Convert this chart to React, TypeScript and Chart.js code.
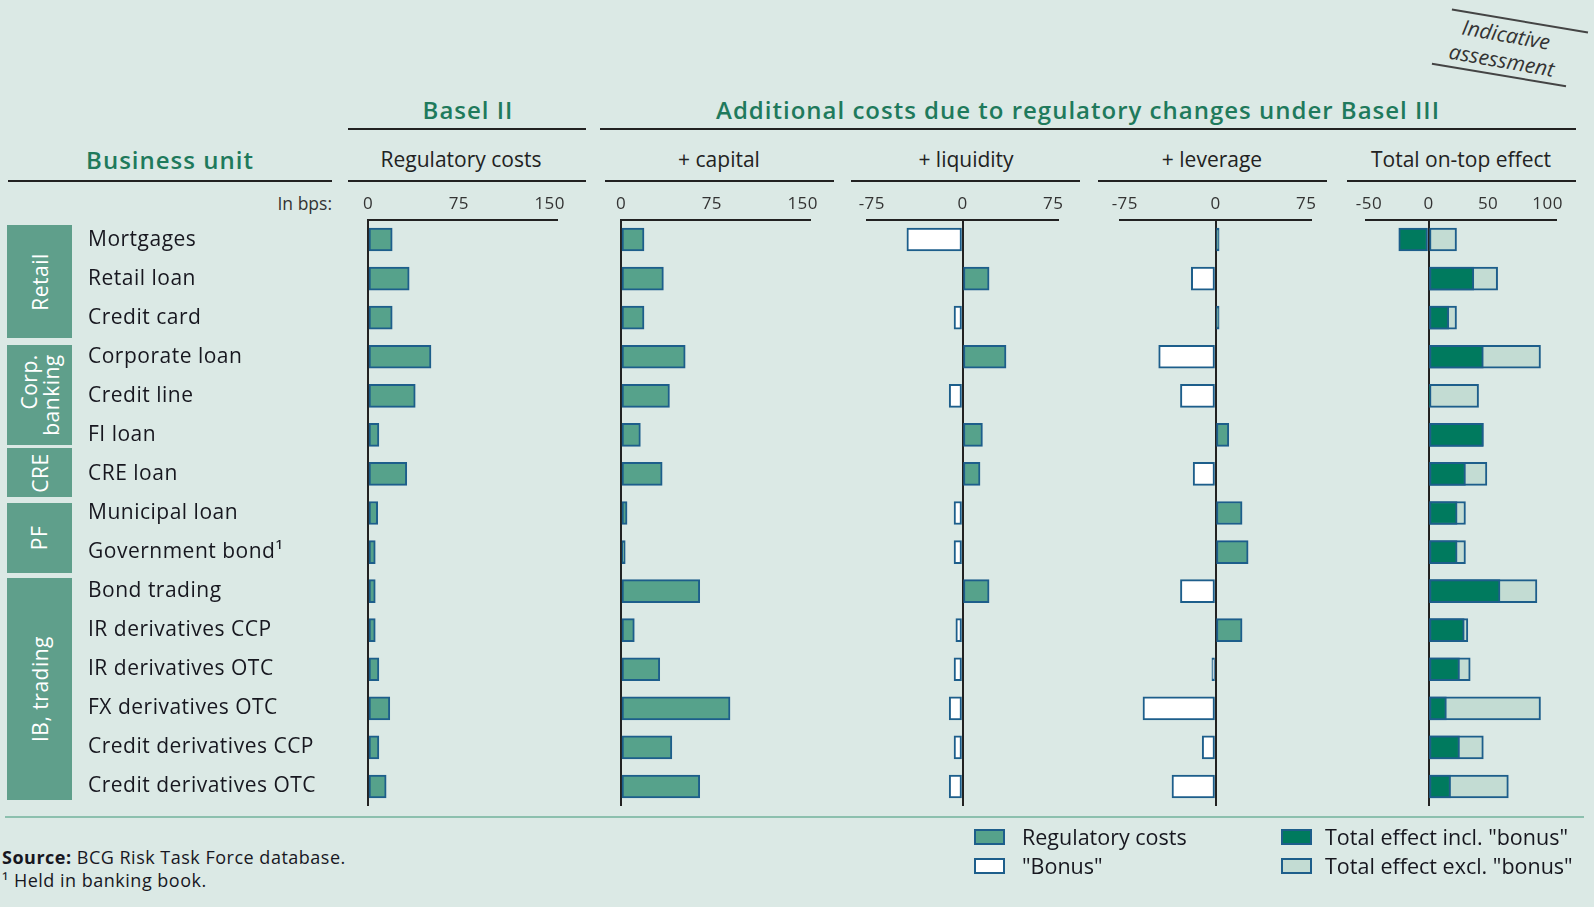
import React, { useEffect, useRef } from "react";
import { Chart, registerables } from "chart.js";

Chart.register(...registerables);

// ---------- data ----------
const categories = [
  "Mortgages",
  "Retail loan",
  "Credit card",
  "Corporate loan",
  "Credit line",
  "FI loan",
  "CRE loan",
  "Municipal loan",
  "Government bond¹",
  "Bond trading",
  "IR derivatives CCP",
  "IR derivatives OTC",
  "FX derivatives OTC",
  "Credit derivatives CCP",
  "Credit derivatives OTC",
];
const regulatoryCosts = [20, 34, 20, 52, 39, 9, 32, 8, 6, 6, 6, 9, 18, 9, 15];
const capitalCosts = [19, 35, 19, 53, 40, 16, 34, 5, 3.5, 65, 11, 32, 90, 42, 65];
const liquidityCosts = [-46, 22, -7, 36, -11, 16.5, 14.5, -7, -7, 22, -5.5, -7, -11, -7, -11];
const leverageCosts = [3, -20, 3, -47, -29, 11, -18.5, 22, 27, -29, 22, -3, -60, -11, -36];
const totalInclBonus = [-25, 38, 17, 46, 1, 46, 31, 24, 24, 60, 30, 26, 15, 26, 18.5];
const totalExclBonus = [23.5, 58, 23.5, 94, 42, 46, 49, 31, 31, 91, 33, 35, 94, 46, 67];

const regTicks = [0, 75, 150];
const capitalTicks = [0, 75, 150];
const liquidityTicks = [-75, 0, 75];
const leverageTicks = [-75, 0, 75];
const totalTicks = [-50, 0, 50, 100];

const groups = [
  { label: "Retail", top: 225, bottom: 338 },
  { label: "Corp.\nbanking", top: 345, bottom: 445 },
  { label: "CRE", top: 448, bottom: 497 },
  { label: "PF", top: 503, bottom: 573 },
  { label: "IB, trading", top: 578, bottom: 800 },
];

// ---------- styles ----------
const FONT = '"Open Sans", "DejaVu Sans", sans-serif';
const BG = "#dbe9e5";
const GREEN = "#56a28b";
const BORDER = "#1d5e8b";
const DARK = "#007a5e";
const LIGHT = "#c3dcd3";
const WHITE = "#ffffff";
const HEAD = "#1f7a5c";
const TEXT = "#17171f";
const BOX = "#5f9f8b";

const CANVAS_TOP = 186;
const AREA_BOTTOM = 806;
const PAD_BOTTOM = 15;
const CANVAS_H = AREA_BOTTOM + PAD_BOTTOM - CANVAS_TOP;

type Panel = {
  areaLeft: number;
  areaRight: number;
  min: number;
  max: number;
  ticks: number[];
  datasets: any[];
  withLabels: boolean;
};

const signed = (vals: number[]) => vals.map((v) => (v >= 0 ? GREEN : WHITE));

const barBase = {
  borderColor: BORDER,
  borderWidth: 2,
  borderSkipped: false,
  barThickness: 23,
  grouped: false,
};

const panels: Panel[] = [
  {
    areaLeft: 368,
    areaRight: 557,
    min: 0,
    max: 156,
    ticks: regTicks,
    withLabels: true,
    datasets: [{ ...barBase, label: "Regulatory costs", data: regulatoryCosts, backgroundColor: GREEN }],
  },
  {
    areaLeft: 621,
    areaRight: 810,
    min: 0,
    max: 156,
    ticks: capitalTicks,
    withLabels: false,
    datasets: [{ ...barBase, label: "+ capital", data: capitalCosts, backgroundColor: GREEN }],
  },
  {
    areaLeft: 867,
    areaRight: 1058,
    min: -79,
    max: 79,
    ticks: liquidityTicks,
    withLabels: false,
    datasets: [{ ...barBase, label: "+ liquidity", data: liquidityCosts, backgroundColor: signed(liquidityCosts) }],
  },
  {
    areaLeft: 1120,
    areaRight: 1311,
    min: -79,
    max: 79,
    ticks: leverageTicks,
    withLabels: false,
    datasets: [{ ...barBase, label: "+ leverage", data: leverageCosts, backgroundColor: signed(leverageCosts) }],
  },
  {
    areaLeft: 1366,
    areaRight: 1556,
    min: -52.5,
    max: 107,
    ticks: totalTicks,
    withLabels: false,
    datasets: [
      { ...barBase, label: 'Total effect incl. "bonus"', data: totalInclBonus, backgroundColor: DARK },
      { ...barBase, label: 'Total effect excl. "bonus"', data: totalExclBonus, backgroundColor: LIGHT },
    ],
  },
];

const LABEL_LEFT = 88;

function canvasBox(p: Panel) {
  if (p.withLabels) {
    const left = 80;
    return { left, width: p.areaRight + 40 - left, padL: LABEL_LEFT - left, padR: 40 };
  }
  return { left: p.areaLeft - 40, width: p.areaRight - p.areaLeft + 80, padL: 40, padR: 40 };
}

const spacingPlugin = {
  id: "letterSpacing",
  beforeDraw(chart: any) {
    chart.ctx.letterSpacing = "0.5px";
  },
};

function PanelChart({ p }: { p: Panel }) {
  const ref = useRef<HTMLCanvasElement | null>(null);
  const box = canvasBox(p);
  useEffect(() => {
    if (!ref.current) return;
    const yScale: any = {
      type: "category",
      display: p.withLabels,
      grid: { display: false },
      border: { display: false },
      ticks: {
        crossAlign: "far",
        autoSkip: false,
        padding: 0,
        color: TEXT,
        font: { family: FONT, size: 21, weight: "500" },
      },
    };
    if (p.withLabels) {
      yScale.afterFit = (s: any) => {
        s.width = p.areaLeft - LABEL_LEFT;
      };
    }
    const chart = new Chart(ref.current, {
      type: "bar",
      data: { labels: categories, datasets: p.datasets },
      plugins: [spacingPlugin],
      options: {
        indexAxis: "y",
        animation: false,
        responsive: false,
        maintainAspectRatio: false,
        layout: { padding: { left: box.padL, right: box.padR, top: 1.6, bottom: PAD_BOTTOM } },
        plugins: { legend: { display: false }, tooltip: { enabled: false }, title: { display: false } },
        scales: {
          x: {
            type: "linear",
            position: "top",
            min: p.min,
            max: p.max,
            z: 1,
            afterBuildTicks: (axis: any) => {
              axis.ticks = p.ticks.map((v) => ({ value: v }));
            },
            ticks: {
              padding: 6,
              color: "#333",
              font: { family: FONT, size: 17 },
              callback: (v: any) => String(v),
              maxRotation: 0,
              autoSkip: false,
            },
            grid: {
              drawTicks: false,
              lineWidth: 2,
              color: (ctx: any) => (ctx.tick && ctx.tick.value === 0 ? "#222" : "rgba(0,0,0,0)"),
            },
            border: { display: true, color: "#222", width: 2 },
          },
          y: yScale,
        },
      } as any,
    });
    return () => chart.destroy();
  }, []);
  return (
    <canvas
      ref={ref}
      width={box.width}
      height={CANVAS_H}
      style={{ position: "absolute", left: box.left, top: CANVAS_TOP, width: box.width, height: CANVAS_H }}
    />
  );
}

const abs = (x: number, y: number, extra: any = {}) => ({
  position: "absolute" as const,
  left: x,
  top: y,
  transform: "translate(-50%, -50%)",
  whiteSpace: "pre" as const,
  ...extra,
});

function HLine({ x1, x2, y, color = "#222", w = 2 }: any) {
  return <div style={{ position: "absolute", left: x1, top: y - w / 2, width: x2 - x1, height: w, background: color }} />;
}

function RotLine({ cx, cy, len, angle }: any) {
  return (
    <div
      style={{
        position: "absolute",
        left: cx - len / 2,
        top: cy - 0.75,
        width: len,
        height: 1.5,
        background: "#444",
        transform: `rotate(${angle}deg)`,
      }}
    />
  );
}

const subHeaders = [
  { text: "Regulatory costs", cx: 461, x1: 348, x2: 586 },
  { text: "+ capital", cx: 719, x1: 605, x2: 834 },
  { text: "+ liquidity", cx: 966, x1: 851, x2: 1080 },
  { text: "+ leverage", cx: 1212, x1: 1098, x2: 1327 },
  { text: "Total on-top effect", cx: 1461, x1: 1347, x2: 1576 },
];

const legendItems = [
  { text: "Regulatory costs", fill: GREEN, x: 974, tx: 1022, y: 837 },
  { text: '"Bonus"', fill: WHITE, x: 974, tx: 1022, y: 866 },
  { text: 'Total effect incl. "bonus"', fill: DARK, x: 1281, tx: 1325, y: 837 },
  { text: 'Total effect excl. "bonus"', fill: LIGHT, x: 1281, tx: 1325, y: 866 },
];

const headStyle = { fontSize: 24, fontWeight: 600, color: HEAD, letterSpacing: "1px" };

export default function App() {
  return (
    <div
      style={{
        position: "absolute",
        left: 0,
        top: 0,
        width: 1594,
        height: 907,
        background: BG,
        fontFamily: FONT,
        color: TEXT,
        overflow: "hidden",
      }}
    >
      {/* Indicative assessment stamp */}
      <RotLine cx={1520} cy={21} len={138} angle={9.6} />
      <RotLine cx={1499} cy={75} len={136} angle={9.6} />
      <div
        style={{
          ...abs(1504, 47),
          fontStyle: "italic",
          fontSize: 21,
          lineHeight: "26px",
          textAlign: "center",
          color: "#333",
          transform: "translate(-50%, -50%) rotate(10deg)",
        }}
      >
        {"Indicative\nassessment"}
      </div>

      {/* main headers */}
      <div style={abs(468, 109, headStyle)}>Basel II</div>
      <HLine x1={348} x2={586} y={129} />
      <div style={abs(1078, 109, headStyle)}>Additional costs due to regulatory changes under Basel III</div>
      <HLine x1={600} x2={1576} y={129} />

      <div style={abs(170, 159, headStyle)}>Business unit</div>
      <HLine x1={8} x2={332} y={181} />
      {subHeaders.map((s) => (
        <React.Fragment key={s.text}>
          <div style={abs(s.cx, 159, { fontSize: 21, color: "#222" })}>{s.text}</div>
          <HLine x1={s.x1} x2={s.x2} y={181} />
        </React.Fragment>
      ))}
      <div
        style={{ position: "absolute", right: 1594 - 332, top: 193, fontSize: 17.5, color: "#333", lineHeight: "20px" }}
      >
        In bps:
      </div>

      {/* group boxes */}
      {groups.map((g) => (
        <div
          key={g.label}
          style={{
            position: "absolute",
            left: 7,
            top: g.top,
            width: 65,
            height: g.bottom - g.top,
            background: BOX,
            display: "flex",
            alignItems: "center",
            justifyContent: "center",
          }}
        >
          <div
            style={{
              transform: "rotate(-90deg)",
              color: "#fff",
              fontSize: 21,
              letterSpacing: "0.5px",
              lineHeight: "22px",
              whiteSpace: "pre",
              textAlign: "right",
            }}
          >
            {g.label}
          </div>
        </div>
      ))}

      {panels.map((p, i) => (
        <PanelChart key={i} p={p} />
      ))}

      {/* bottom separator */}
      <HLine x1={5} x2={1584} y={817} color="#8cc0ae" w={2} />

      {/* legend */}
      {legendItems.map((l) => (
        <React.Fragment key={l.text}>
          <div
            style={{
              position: "absolute",
              left: l.x,
              top: l.y - 8,
              width: 31,
              height: 16,
              background: l.fill,
              border: `2px solid ${BORDER}`,
              boxSizing: "border-box",
            }}
          />
          <div
            style={{
              position: "absolute",
              left: l.tx,
              top: l.y - 13,
              fontSize: 21.5,
              lineHeight: "26px",
              color: TEXT,
              whiteSpace: "nowrap",
            }}
          >
            {l.text}
          </div>
        </React.Fragment>
      ))}

      {/* source */}
      <div
        style={{
          position: "absolute",
          left: 2,
          top: 846,
          fontSize: 18,
          letterSpacing: "0.5px",
          lineHeight: "23px",
          color: TEXT,
          whiteSpace: "nowrap",
        }}
      >
        <span style={{ fontWeight: 700 }}>Source:</span> BCG Risk Task Force database.
        <br />
        <span>¹ Held in banking book.</span>
      </div>
    </div>
  );
}
